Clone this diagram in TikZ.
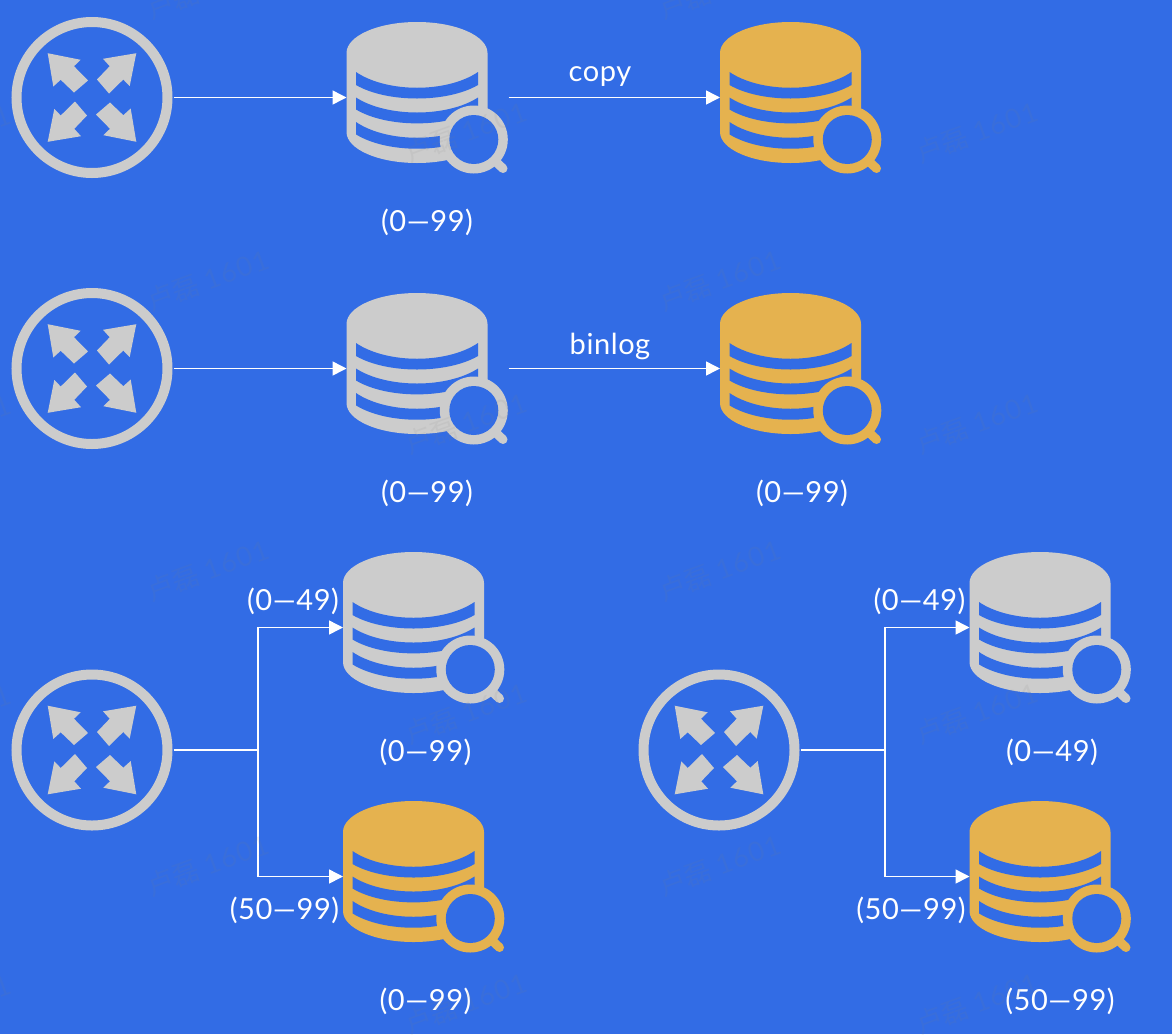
\documentclass[tikz,border=0pt]{standalone}
\usepackage{fontspec}
\usetikzlibrary{arrows.meta}
\setmainfont{Noto Sans}
\newfontfamily\labelfont[LetterSpace=2]{Lato}
\newfontfamily\markfont{Noto Sans CJK SC}
\newfontfamily\markdigits[LetterSpace=5]{Lato}
\definecolor{bgblue}{RGB}{50,108,229}
\definecolor{iconGrey}{RGB}{204,204,204}
\definecolor{iconGold}{RGB}{229,178,79}
\tikzset{
  routerbox/.style={circle,draw=iconGrey,line width=10pt,minimum size=151pt,inner sep=0pt},
  dbbox/.style={minimum width=141pt,minimum height=151pt,inner sep=0pt,outer sep=0pt},
  wire/.style={white,line width=1.5pt},
  flow/.style={wire,-{Triangle[length=14pt,width=14pt]}},
  rangetext/.style={white,font=\labelfont\fontsize{29}{29}\selectfont,inner sep=0pt},
  watermark/.style={gray,opacity=0.1,rotate=20,font=\fontsize{27}{27}\selectfont,inner sep=0pt},
  pics/spread/.style={code={
    \foreach \a in {0,90,180,270}
      \fill[iconGrey,rotate=\a] (-44.3,-44.3) -- (-11.3,-37.7) -- (-18,-31.3) -- (-4,-17)
        -- (-18,-5) -- (-31.3,-17.7) -- (-38.7,-11) -- cycle;
  }},
  pics/dbicon/.style={code={
    \begin{scope}[shift={(0,-75.5)}]
      % body
      \fill[#1] (-70.5,31) arc (180:360:70.5 and 31) -- (70.5,110) arc (0:180:70.5 and 31) -- cycle;
      % bands
      \fill[bgblue] (-61,50) .. controls (-30,71) and (30,71) .. (61,50) -- (61,63)
        .. controls (30,81) and (-30,81) .. (-61,63) -- cycle;
      \fill[bgblue] (-61,75.5) .. controls (-30,95.5) and (30,95.5) .. (61,75.5) -- (61,87.5)
        .. controls (30,106) and (-30,106) .. (-61,87.5) -- cycle;
      \fill[bgblue] (-61,100) .. controls (-30,121) and (30,121) .. (61,100) -- (61,112.4)
        .. controls (30,131.5) and (-30,131.5) .. (-61,112.4) -- cycle;
      % lens
      \draw[#1,line width=9pt,line cap=round] (78,139) -- (86,146.5);
      \fill[#1] (56.8,117.5) circle (34);
      \fill[bgblue] (56.8,117.5) circle (24.5);
    \end{scope}
  }}
}
\begin{document}
\begin{tikzpicture}[x=1pt,y=-1pt]
  \useasboundingbox (0,0) rectangle (1172,1034);
  \clip (0,0) rectangle (1172,1034);
  \fill[bgblue] (0,0) rectangle (1172,1034);

  % routers
  \node[routerbox] (routerA) at (92,97.5) {};
  \node[routerbox] (routerB) at (92,368.5) {};
  \node[routerbox] (routerC) at (92,750) {};
  \node[routerbox] (routerD) at (719,750) {};
  \foreach \r in {routerA,routerB,routerC,routerD}
    \pic at (\r) {spread};

  % databases
  \node[dbbox] (dbA) at (417,97.5) {};
  \node[dbbox] (dbB) at (790.5,97.5) {};
  \node[dbbox] (dbC) at (417,368.5) {};
  \node[dbbox] (dbD) at (790.5,368.5) {};
  \node[dbbox] (dbE) at (413.5,627.5) {};
  \node[dbbox] (dbF) at (413.5,876.5) {};
  \node[dbbox] (dbG) at (1040,627.5) {};
  \node[dbbox] (dbH) at (1040,876.5) {};
  \foreach \d in {dbA,dbC,dbE,dbG}
    \pic at (\d) {dbicon=iconGrey};
  \foreach \d in {dbB,dbD,dbF,dbH}
    \pic at (\d) {dbicon=iconGold};

  % connectors
  \draw[flow,shorten <=1pt] (routerA.east) -- (dbA.west);
  \draw[flow,shorten <=21pt] (dbA.east) -- (dbB.west);
  \draw[flow,shorten <=1pt] (routerB.east) -- (dbC.west);
  \draw[flow,shorten <=21pt] (dbC.east) -- (dbD.west);

  \coordinate (splitC) at (258,750);
  \coordinate (splitD) at (885,750);
  \draw[wire,shorten <=1pt] (routerC.east) -- (splitC);
  \draw[flow] (splitC) |- (dbE.west);
  \draw[flow] (splitC) |- (dbF.west);
  \draw[wire,shorten <=1pt] (routerD.east) -- (splitD);
  \draw[flow] (splitD) |- (dbG.west);
  \draw[flow] (splitD) |- (dbH.west);

  % labels
  \node[rangetext] (copyText) at (600,77) {copy};
  \node[rangetext] (binlogText) at (610,346) {binlog};
  \node[rangetext] (rangeA) at (427,222) {(0—99)};
  \node[rangetext] (rangeC) at (427,493) {(0—99)};
  \node[rangetext] (rangeD) at (802,493) {(0—99)};
  \node[rangetext] (rangeE) at (293,601) {(0—49)};
  \node[rangetext] (rangeEb) at (425.5,752) {(0—99)};
  \node[rangetext] (rangeF) at (284.5,910) {(50—99)};
  \node[rangetext] (rangeFb) at (425.5,1001) {(0—99)};
  \node[rangetext] (rangeG) at (919.5,601) {(0—49)};
  \node[rangetext] (rangeGb) at (1052,752) {(0—49)};
  \node[rangetext] (rangeH) at (911,910) {(50—99)};
  \node[rangetext] (rangeHb) at (1060,1001) {(50—99)};

  % watermark
  \foreach \x/\y [count=\i] in {208/-12,720/-12,466/132,977/132,208/280,720/280,-50/135,
      -50/425,466/423,977/423,208/570,720/570,-50/715,466/713,977/713,208/865,720/865,
      -50/1005,466/1003,977/1003}
    \node[watermark] (mark\i) at (\x,\y) {{\markfont 卢磊} {\markdigits 1601}};
\end{tikzpicture}
\end{document}
